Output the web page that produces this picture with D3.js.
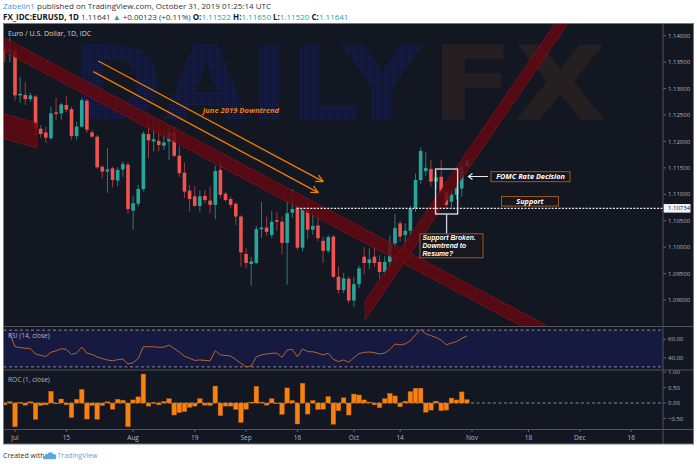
<!DOCTYPE html>
<html><head><meta charset="utf-8">
<script src="https://cdn.jsdelivr.net/npm/d3@7"></script>
<style>
html,body{margin:0;padding:0;background:#fff;}
svg{display:block;font-family:"Open Sans",sans-serif;}
</style></head><body>
<svg id="c" width="697" height="464"></svg>
<script>
// ---------------- DATA ----------------
const dates = ("06-27 06-28 07-01 07-02 07-03 07-04 07-05 07-08 07-09 07-10 07-11 07-12 " +
 "07-15 07-16 07-17 07-18 07-19 07-22 07-23 07-24 07-25 07-26 07-29 07-30 07-31 08-01 08-02 " +
 "08-05 08-06 08-07 08-08 08-09 08-12 08-13 08-14 08-15 08-16 08-19 08-20 08-21 08-22 08-23 " +
 "08-26 08-27 08-28 08-29 08-30 09-02 09-03 09-04 09-05 09-06 09-09 09-10 09-11 09-12 09-13 " +
 "09-16 09-17 09-18 09-19 09-20 09-23 09-24 09-25 09-26 09-27 09-30 10-01 10-02 10-03 10-04 " +
 "10-07 10-08 10-09 10-10 10-11 10-14 10-15 10-16 10-17 10-18 10-21 10-22 10-23 10-24 10-25 " +
 "10-28 10-29 10-30 10-31").split(" ");

const open = [1.1375,1.1370,1.1372,1.1287,1.1288,1.1280,1.1285,1.1224,1.1217,1.1206,1.1255,1.1253,
 1.1269,1.1261,1.1210,1.1228,1.1277,1.1217,1.1209,1.1152,1.1143,1.1149,1.1126,1.1147,1.1156,1.1069,1.1082,
 1.1110,1.1214,1.1200,1.1201,1.1192,1.1200,1.1217,1.1173,1.1141,1.1107,1.1096,1.1078,1.1097,1.1088,1.1080,
 1.1146,1.1101,1.1091,1.1082,1.1058,1.0987,1.0968,1.0970,1.1034,1.1037,1.1023,1.1051,1.1048,1.1008,1.1065,
 1.1075,1.0999,1.1074,1.1033,1.1041,1.1012,1.0993,1.1020,1.0944,1.0919,1.0940,1.0899,1.0930,1.0982,1.0970,
 1.0982,1.0972,1.0953,1.0972,1.1007,1.1045,1.1023,1.1031,1.1073,1.1127,1.1144,1.1148,1.1124,1.1133,1.1105,
 1.1086,1.1099,1.1111,1.11522];
const high = [1.1380,1.1396,1.1378,1.1322,1.1312,1.1292,1.1288,1.1231,1.1228,1.1266,1.1282,1.1273,
 1.1285,1.1266,1.1237,1.1282,1.1280,1.1222,1.1212,1.1155,1.1188,1.1152,1.1151,1.1162,1.1160,1.1096,1.1118,
 1.1219,1.1250,1.1244,1.1234,1.1222,1.1231,1.1228,1.1191,1.1160,1.1118,1.1115,1.1107,1.1108,1.1115,1.1154,
 1.1165,1.1105,1.1096,1.1086,1.1060,1.0998,1.0981,1.1040,1.1086,1.1058,1.1069,1.1067,1.1058,1.1086,1.1110,
 1.1080,1.1078,1.1086,1.1076,1.1067,1.1020,1.1023,1.1023,1.0963,1.0951,1.0945,1.0943,1.0965,1.1000,1.0998,
 1.1000,1.0985,1.0983,1.1022,1.1063,1.1050,1.1045,1.1078,1.1139,1.1188,1.1181,1.1165,1.1142,1.1165,1.1110,
 1.1108,1.1120,1.1163,1.11650];
const low = [1.1350,1.1350,1.1277,1.1273,1.1269,1.1275,1.1209,1.1207,1.1197,1.1203,1.1241,1.1241,
 1.1255,1.1203,1.1203,1.1226,1.1216,1.1207,1.1148,1.1130,1.1103,1.1113,1.1115,1.1133,1.1063,1.1033,1.1077,
 1.1105,1.1168,1.1181,1.1181,1.1184,1.1164,1.1170,1.1133,1.1093,1.1067,1.1076,1.1067,1.1083,1.1065,1.1053,
 1.1093,1.1086,1.1074,1.1042,1.0963,1.0960,1.0927,1.0968,1.1017,1.1021,1.1017,1.1031,1.0986,1.0929,1.1055,
 1.0995,1.0992,1.1015,1.1023,1.1011,1.0970,1.0989,1.0941,1.0912,1.0913,1.0894,1.0887,1.0922,1.0948,1.0958,
 1.0962,1.0940,1.0943,1.0960,1.0996,1.1010,1.0990,1.1023,1.1067,1.1120,1.1135,1.1115,1.1110,1.1100,1.1072,
 1.1075,1.1090,1.1095,1.11520];
const close = [1.1370,1.1374,1.1287,1.1290,1.1280,1.1287,1.1226,1.1214,1.1207,1.1253,1.1252,1.1270,
 1.1260,1.1210,1.1228,1.1278,1.1222,1.1209,1.1151,1.1143,1.1147,1.1127,1.1146,1.1157,1.1072,1.1083,1.1110,
 1.1215,1.1202,1.1204,1.1193,1.1198,1.1217,1.1173,1.1140,1.1105,1.1091,1.1078,1.1096,1.1089,1.1080,1.1144,
 1.1099,1.1089,1.1080,1.1058,1.0990,1.0970,1.0973,1.1034,1.1037,1.1029,1.1048,1.1048,1.1008,1.1064,1.1072,
 1.0999,1.1074,1.1033,1.1040,1.1017,1.0993,1.1019,1.0944,1.0919,1.0941,1.0899,1.0930,1.0960,1.0970,1.0977,
 1.0970,1.0953,1.0972,1.1007,1.1036,1.1020,1.1031,1.1073,1.1127,1.1182,1.1150,1.1124,1.1132,1.1105,1.1080,
 1.1100,1.1111,1.11518,1.11641];

const rsi = [null,66,52,51,50.3,50,44,42.5,41.3,46,47.5,49.8,
 49,43.5,45,51.5,45,43.5,40.8,39,37.5,36.7,37.8,38.5,33.2,34.6,39,
 52,52,51.8,51.3,51.5,53.8,50,46,41.5,39.3,37,37.5,37,36.7,47.6,
 43,42.5,41.8,38,33.9,30,31,41,43,44,44.8,45,40.4,48.4,49.1,
 41,49.5,46.5,46.5,45,43,44.8,38.2,35.7,37.5,35,40,44.5,45.8,46.2,
 45.5,44,45,49,54.9,54,55,58.5,65,70.5,66,64,62,59,54,
 56,57.5,61,63.5];

const roc = [-0.06,0.04,-0.77,0.02,-0.07,0.04,-0.53,-0.08,-0.06,0.38,-0.02,0.13,
 -0.06,-0.47,0.12,0.44,-0.52,-0.08,-0.53,-0.08,0.04,-0.2,0.12,0.09,-0.77,0.1,0.2,
 0.94,-0.1,0.02,-0.06,0.05,0.14,-0.39,-0.31,-0.28,-0.14,-0.1,0.14,-0.07,-0.08,0.55,
 -0.41,-0.1,-0.1,-0.21,-0.63,-0.2,0.03,0.54,0.03,-0.07,0.14,-0.02,-0.37,0.49,0.08,
 -0.68,0.64,-0.36,0.08,-0.21,-0.2,0.21,-0.69,-0.25,0.17,-0.39,0.29,0.26,0.1,0.03,
 -0.06,-0.15,0.14,0.31,0.23,-0.12,0.06,0.37,0.48,0.48,-0.3,-0.23,0.06,-0.25,-0.23,
 0.16,0.1,0.36,0.11];

const priceTicks = [1.09,1.095,1.10,1.105,1.11,1.115,1.12,1.125,1.13,1.135,1.14];
const rsiTicks = [40,60];
const rocTicks = [-0.5,0,0.5,1];
const timeTickLabels = ["Jul","15","Aug","19","Sep","16","Oct","14","Nov","18","Dec","16"];
const timeTickPos = [2,12,25,37,47,57,68,77,91,102,112,122];
const supportLevel = 1.10734;

// drawing anchors (bar position, price)
const descBand = [[-0.34,1.13975],[105.2,1.08535]];
const ascBand = [[70.16,1.08622],[109.5,1.14202]];
const oldBox = [[-0.34,1.12532],[6.28,1.12344],[6.28,1.11871],[-0.34,1.12060]];
const arrowA = [[18.22,1.13521],[62.04,1.11238]];
const arrowB = [[17.25,1.13319],[61.07,1.11030]];
const focusBox = [[83.9,1.11478],[88.2,1.10627]];

// ---------------- LAYOUT ----------------
const svg = d3.select("#c");
const L=3.5, AX=663, R=693.5, T=23.5, MB=326.5, RB=370, CB=429.5, B=444;
const BG="#131722", AXT="#b2b5be", SEP="#50535e";
const UP="#26a69a", DN="#ef5350", UPW="#2b7d74", DNW="#9c3b3f";

const xs = d3.scaleLinear().domain([2,91]).range([15,472]);
const yP = d3.scaleLinear().domain([1.08508,1.142213]).range([326,24]);
const yR = d3.scaleLinear().domain([26.6,73.4]).range([370,327]);
const yC = d3.scaleLinear().domain([-0.860,1.0714]).range([429.5,370]);
const pt = d => [xs(d[0]), yP(d[1])];

const defs = svg.append("defs");
function clip(id,x,y,w,h){defs.append("clipPath").attr("id",id).append("rect").attr("x",x).attr("y",y).attr("width",w).attr("height",h);}
clip("cm",L,T,AX-L,MB-T);
clip("cr",L,MB,AX-L,RB-MB);
clip("cc",L,RB,AX-L,CB-RB);
const pat = defs.append("pattern").attr("id","dots").attr("width",2).attr("height",2).attr("patternUnits","userSpaceOnUse");
pat.append("rect").attr("width",1).attr("height",1).attr("fill","#20264a");
const hat = defs.append("pattern").attr("id","hatch").attr("width",2).attr("height",2).attr("patternUnits","userSpaceOnUse");
hat.append("rect").attr("width",2).attr("height",2).attr("fill","#4a0b11");
hat.append("rect").attr("width",1).attr("height",1).attr("fill","#650d15");
hat.append("rect").attr("x",1).attr("y",1).attr("width",1).attr("height",1).attr("fill","#650d15");

// background
svg.append("rect").attr("x",L).attr("y",T).attr("width",R-L).attr("height",B-T).attr("fill",BG);

// header
const h1 = svg.append("text").attr("x",3).attr("y",9).attr("font-size",8).attr("fill","#333");
h1.append("tspan").attr("fill","#3c9be8").text("Zabelin1");
h1.append("tspan").text(" published on TradingView.com, October 31, 2019 01:25:14 UTC");
const h2 = svg.append("text").attr("x",3).attr("y",19.5).attr("font-size",8).attr("fill","#333");
h2.append("tspan").attr("font-weight","bold").attr("fill","#131722").text("FX_IDC:EURUSD, 1D");
h2.append("tspan").text(" 1.11641 ");
h2.append("tspan").attr("fill",UP).text("▲");
h2.append("tspan").text(" +0.00123 (+0.11%) ");
[["O:","1.11522"],["H:","1.11650"],["L:","1.11520"],["C:","1.11641"]].forEach((d,k)=>{
  h2.append("tspan").attr("font-weight","bold").attr("fill","#131722").text((k?" ":"")+d[0]);
  h2.append("tspan").attr("fill",UP).text(d[1]);
});

// ---------------- MAIN PANE ----------------
const gm = svg.append("g").attr("clip-path","url(#cm)");
// watermark
gm.append("text").attr("x",72).attr("y",120).attr("font-family","DejaVu Sans").attr("font-weight","bold")
  .attr("font-size",103).attr("textLength",350).attr("lengthAdjust","spacingAndGlyphs").attr("fill","url(#dots)").text("DAILY");
gm.append("text").attr("x",431).attr("y",120).attr("font-family","DejaVu Sans").attr("font-weight","bold")
  .attr("font-size",103).attr("textLength",176).attr("lengthAdjust","spacingAndGlyphs").attr("fill","#251f22").text("FX");

// candles
const idx = d3.range(dates.length);
gm.append("g").selectAll("line").data(idx).join("line")
  .attr("x1",k=>xs(k)).attr("x2",k=>xs(k))
  .attr("y1",k=>yP(high[k])).attr("y2",k=>yP(low[k]))
  .attr("stroke",k=>close[k]>=open[k]?UPW:DNW).attr("stroke-width",1);
gm.append("g").selectAll("rect").data(idx).join("rect")
  .attr("x",k=>xs(k)-1.8).attr("width",3.6)
  .attr("y",k=>yP(Math.max(open[k],close[k])))
  .attr("height",k=>Math.max(1,Math.abs(yP(open[k])-yP(close[k]))))
  .attr("fill",k=>close[k]>=open[k]?UP:DN);

// red bands
function band(a,w){
  const p=[a[0],a[1],[a[1][0],a[1][1]+w],[a[0][0],a[0][1]+w]].map(pt);
  return "M"+p.join("L")+"Z";
}
const bandStyle = s => s.attr("fill","url(#hatch)").attr("fill-opacity",0.85).attr("stroke","#a3121a").attr("stroke-width",0.9).attr("stroke-dasharray","1.2,0.8");
bandStyle(gm.append("path").attr("d","M"+oldBox.map(pt).join("L")+"Z"));
bandStyle(gm.append("path").attr("d",band(descBand,-0.00265)));
bandStyle(gm.append("path").attr("d",band(ascBand,0.0036)));

// orange arrows
[arrowA,arrowB].forEach(a=>{
  const p0=pt(a[0]), p1=pt(a[1]);
  gm.append("line").attr("x1",p0[0]).attr("y1",p0[1]).attr("x2",p1[0]).attr("y2",p1[1])
    .attr("stroke","#f57c00").attr("stroke-width",1.3);
  const ang=Math.atan2(p1[1]-p0[1],p1[0]-p0[0]), len=8;
  [0.45,-0.45].forEach(da=>{
    gm.append("line").attr("x1",p1[0]).attr("y1",p1[1])
      .attr("x2",p1[0]-len*Math.cos(ang+da)).attr("y2",p1[1]-len*Math.sin(ang+da))
      .attr("stroke","#f57c00").attr("stroke-width",1.3);
  });
});
gm.append("text").attr("x",xs(46)).attr("y",yP(1.12594)).attr("dy","0.35em").attr("text-anchor","middle")
  .attr("font-size",7.6).attr("font-weight","bold").attr("font-style","italic").attr("fill","#f57c00").text("June 2019 Downtrend");

// support line
gm.append("line").attr("x1",xs(56.86)).attr("x2",AX).attr("y1",yP(supportLevel)).attr("y2",yP(supportLevel))
  .attr("stroke","#e6e8ee").attr("stroke-width",1.3).attr("stroke-dasharray","2,1.4");

// focus box + connector
const fb0=pt(focusBox[0]), fb1=pt(focusBox[1]);
gm.append("rect").attr("x",fb0[0]).attr("y",fb0[1]).attr("width",fb1[0]-fb0[0]).attr("height",fb1[1]-fb0[1])
  .attr("fill","none").attr("stroke","#d1d4dc").attr("stroke-width",1.4);
gm.append("line").attr("x1",xs(86.05)).attr("x2",xs(86.05)).attr("y1",fb1[1]).attr("y2",yP(1.10243))
  .attr("stroke","#d1d4dc").attr("stroke-width",1.3);

// annotation boxes
function note(cx,cy,w,h,lines,fs,lh,ff){
  const g=gm.append("g");
  g.append("rect").attr("x",cx-w/2).attr("y",cy-h/2).attr("width",w).attr("height",h)
    .attr("fill","#17171d").attr("stroke","#a0571f").attr("stroke-width",1);
  const multi = lines.length>1;
  const t = g.append("text").attr("font-size",fs).attr("font-weight","bold").attr("font-style","italic")
    .attr("fill","#ffffff").attr("text-anchor",multi?"start":"middle");
  if (ff) t.attr("font-family",ff);
  lines.forEach((s,k)=>t.append("tspan").attr("x",multi?cx-w/2+2.5:cx)
    .attr("y",cy-(lines.length-1)*lh/2+k*lh).attr("dy","0.35em").text(s));
}
note(xs(102.4),yP(1.11333),79,10,["FOMC Rate Decision"],7.3,0);
note(xs(102.29),yP(1.10867),57,9.5,["Support"],7.3,0);
note(xs(87.0),yP(1.10025),63,24,["Support Broken.","Downtrend to","Resume?"],6.8,7.9,"Liberation Sans");

// FOMC arrow
{
  const y=yP(1.11336), x0=xs(94.11), x1=xs(90.31);
  gm.append("line").attr("x1",x0).attr("x2",x1).attr("y1",y).attr("y2",y).attr("stroke","#e6e8ee").attr("stroke-width",1.2);
  gm.append("path").attr("d",`M${x1+4},${y-3}L${x1},${y}L${x1+4},${y+3}`).attr("fill","none").attr("stroke","#e6e8ee").attr("stroke-width",1.2);
}

gm.append("text").attr("x",8).attr("y",33.5).attr("dy","0.35em").attr("font-size",7).attr("fill","#d1d4dc").text("Euro / U.S. Dollar, 1D, IDC");

// ---------------- RSI PANE ----------------
const gr = svg.append("g").attr("clip-path","url(#cr)");
gr.append("rect").attr("x",L).attr("width",AX-L).attr("y",yR(70)).attr("height",yR(30)-yR(70)).attr("fill","#161a40");
[70,30].forEach(v=>gr.append("line").attr("x1",L).attr("x2",AX).attr("y1",yR(v)).attr("y2",yR(v))
  .attr("stroke","#9598a1").attr("stroke-width",0.9).attr("stroke-dasharray","3,2.5"));
gr.append("path").datum(rsi).attr("fill","none").attr("stroke","#b8662a").attr("stroke-width",1)
  .attr("d",d3.line().defined(d=>d!=null).x((d,k)=>xs(k)).y(d=>yR(d)));
gr.append("text").attr("x",8).attr("y",335.7).attr("dy","0.35em").attr("font-size",6.6).attr("fill",AXT).text("RSI (14, close)");

// ---------------- ROC PANE ----------------
const gc = svg.append("g").attr("clip-path","url(#cc)");
gc.append("line").attr("x1",L).attr("x2",AX).attr("y1",yC(0)).attr("y2",yC(0))
  .attr("stroke","#9598a1").attr("stroke-width",0.9).attr("stroke-dasharray","3,2.5");
gc.append("g").selectAll("rect").data(idx).join("rect")
  .attr("x",k=>xs(k)-2.3).attr("width",4.6)
  .attr("y",k=>yC(Math.max(0,roc[k])))
  .attr("height",k=>Math.max(0.8,Math.abs(yC(roc[k])-yC(0))))
  .attr("fill","#f7820f").attr("stroke","#c9620a").attr("stroke-width",0.4);
gc.append("text").attr("x",8).attr("y",380).attr("dy","0.35em").attr("font-size",6.6).attr("fill",AXT).text("ROC (1, close)");

// ---------------- AXES ----------------
const ga = svg.append("g").attr("font-size",6).attr("fill",AXT);
function yAxis(ticks,scale,fmt){
  ticks.forEach(v=>{
    ga.append("line").attr("x1",AX).attr("x2",AX+3).attr("y1",scale(v)).attr("y2",scale(v)).attr("stroke","#787b86").attr("stroke-width",0.8);
    ga.append("text").attr("x",AX+5).attr("y",scale(v)).attr("dy","0.35em").text(fmt(v));
  });
}
yAxis(priceTicks,yP,d3.format(".5f"));
yAxis(rsiTicks,yR,d3.format(".2f"));
yAxis(rocTicks,yC,v=>d3.format(".2f")(v).replace("-","−"));
// support price label
ga.append("rect").attr("x",AX+0.5).attr("y",yP(supportLevel)-4.3).attr("width",27).attr("height",8.6).attr("fill","#f0f3fa");
ga.append("text").attr("x",AX+5).attr("y",yP(supportLevel)).attr("dy","0.35em").attr("fill","#131722").text(d3.format(".5f")(supportLevel));

// time axis
timeTickPos.forEach((p,k)=>{
  ga.append("line").attr("x1",xs(p)).attr("x2",xs(p)).attr("y1",CB).attr("y2",CB+2.5).attr("stroke","#787b86").attr("stroke-width",0.8);
  ga.append("text").attr("x",xs(p)).attr("y",437.3).attr("dy","0.35em").attr("text-anchor","middle").attr("font-size",6.5).text(timeTickLabels[k]);
});

// separators & border
const gs = svg.append("g").attr("stroke",SEP).attr("stroke-width",1);
[MB,RB,CB].forEach(y=>gs.append("line").attr("x1",L).attr("x2",R).attr("y1",y).attr("y2",y));
gs.append("line").attr("x1",AX).attr("x2",AX).attr("y1",T).attr("y2",B);
svg.append("rect").attr("x",L).attr("y",T).attr("width",R-L).attr("height",B-T).attr("fill","none").attr("stroke","#787b86").attr("stroke-width",1);

// footer
svg.append("text").attr("x",3).attr("y",457.5).attr("font-size",7).attr("fill","#333").text("Created with");
const logo = svg.append("g").attr("fill","#5aa9dd");
[[47,456,2.2],[50.5,455,2.8],[54,456.3,2.2],[44.5,457.5,1.6]].forEach(c=>logo.append("circle").attr("cx",c[0]).attr("cy",c[1]).attr("r",c[2]));
logo.append("rect").attr("x",43).attr("y",456.5).attr("width",13).attr("height",2.8).attr("rx",1.2);
svg.append("text").attr("x",57.5).attr("y",457.5).attr("font-size",7).attr("fill","#5aa9dd").text("TradingView");
</script>
</body></html>
